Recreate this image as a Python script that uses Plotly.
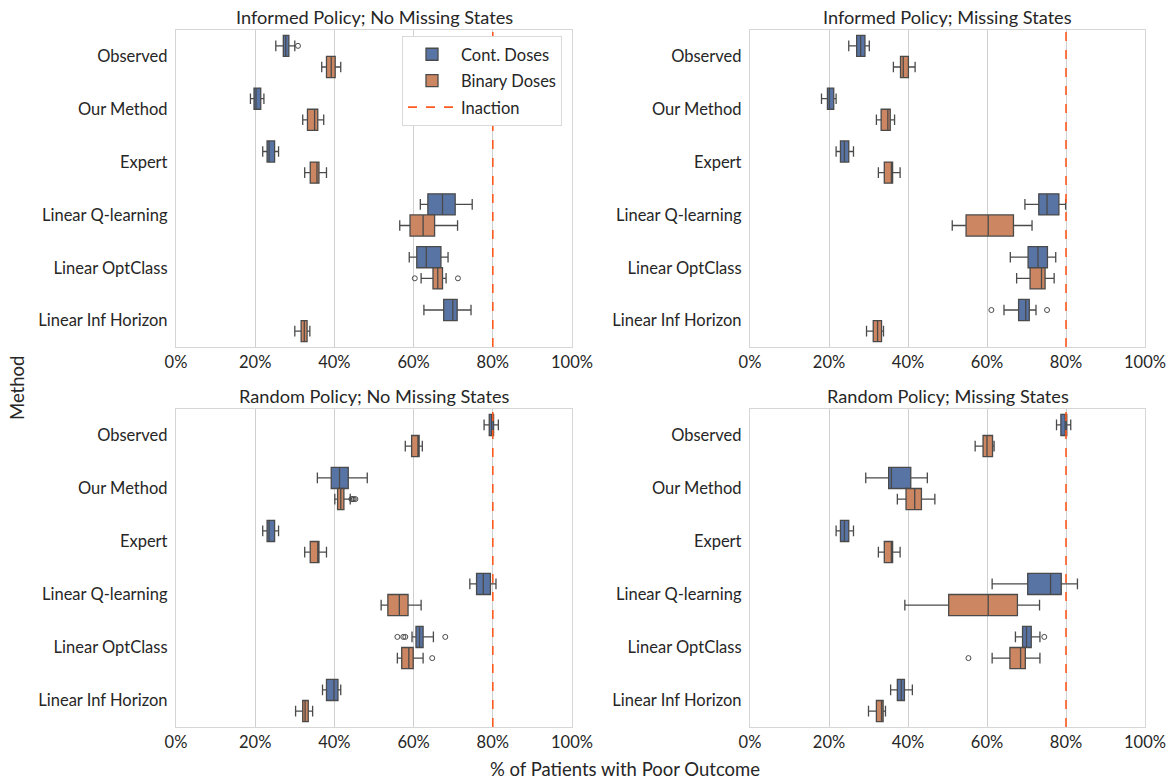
import plotly.graph_objects as go

# ---------------- data ----------------
METHODS = ["Observed", "Our Method", "Expert", "Linear Q-learning",
           "Linear OptClass", "Linear Inf Horizon"]
PANEL_TITLES = ["Informed Policy; No Missing States", "Informed Policy; Missing States",
                "Random Policy; No Missing States", "Random Policy; Missing States"]
SERIES_NAMES = ["Cont. Doses", "Binary Doses"]
X_TICKS = [0, 20, 40, 60, 80, 100]
X_TICK_LABELS = ["0%", "20%", "40%", "60%", "80%", "100%"]
INACTION = 80

# (lower whisker, q1, median, q3, upper whisker) per method, in %
INF_NOMISS_CONT = [(25.2, 27.1, 27.7, 28.5, 30.0), (18.8, 19.7, 20.2, 21.4, 22.2),
                   (21.9, 23.0, 23.5, 24.9, 25.9), (61.7, 63.6, 67.3, 70.5, 74.8),
                   (58.9, 60.8, 63.2, 66.9, 68.7), (62.6, 67.6, 69.9, 71.0, 74.5)]
INF_NOMISS_BIN = [(36.8, 38.0, 39.2, 40.2, 41.6), (32.0, 33.2, 35.0, 35.8, 37.3),
                  (32.5, 33.9, 35.6, 36.1, 38.0), (56.5, 59.1, 62.4, 65.3, 71.1),
                  (61.9, 64.9, 66.1, 67.3, 68.2), (30.0, 31.6, 32.4, 33.1, 33.8)]
INF_MISS_CONT = [(25.0, 27.0, 28.0, 29.1, 30.2), (18.1, 19.6, 20.1, 21.2, 21.8),
                 (21.8, 22.9, 23.9, 25.0, 26.2), (69.6, 73.1, 75.2, 78.2, 79.9),
                 (65.9, 70.4, 72.9, 75.3, 77.4), (64.3, 68.0, 69.8, 70.7, 72.4)]
INF_MISS_BIN = [(36.3, 38.1, 38.8, 40.1, 41.8), (32.0, 33.2, 34.9, 35.5, 36.6),
                (32.5, 34.0, 35.8, 36.1, 38.0), (51.2, 54.7, 60.3, 66.7, 71.4),
                (67.5, 70.9, 73.8, 74.7, 77.0), (29.5, 31.2, 32.3, 33.3, 33.8)]
RND_NOMISS_CONT = [(77.8, 79.1, 79.7, 80.2, 81.4), (35.7, 39.2, 41.3, 43.5, 48.3),
                   (21.9, 23.0, 23.5, 24.9, 25.9), (74.2, 75.9, 77.6, 79.4, 80.8),
                   (59.6, 60.6, 61.5, 62.4, 65.0), (37.0, 38.0, 39.9, 40.9, 41.6)]
RND_NOMISS_BIN = [(57.9, 59.5, 61.1, 61.4, 62.2), (40.1, 40.8, 41.6, 42.4, 44.0),
                  (32.5, 33.9, 35.8, 36.1, 38.0), (51.8, 53.5, 56.4, 58.6, 61.9),
                  (55.9, 57.0, 58.8, 59.9, 62.4), (30.2, 32.0, 32.6, 33.4, 34.5)]
RND_MISS_CONT = [(77.6, 78.7, 79.8, 80.2, 81.2), (29.3, 35.1, 35.8, 40.7, 44.9),
                 (21.8, 22.9, 23.9, 25.0, 26.2), (61.3, 70.3, 76.1, 78.8, 82.9),
                 (67.2, 69.0, 70.0, 71.2, 73.4), (35.6, 37.3, 38.3, 39.1, 41.1)]
RND_MISS_BIN = [(57.0, 59.0, 60.0, 61.4, 61.8), (37.3, 39.5, 41.7, 43.4, 46.8),
                (32.5, 34.0, 35.8, 36.1, 38.0), (39.2, 50.3, 60.3, 67.7, 73.3),
                (61.3, 65.8, 68.5, 69.7, 73.4), (30.0, 32.0, 33.3, 33.7, 34.3)]

# outliers: (method, value)
INF_NOMISS_CONT_OUT = [("Observed", 30.8)]
INF_NOMISS_BIN_OUT = [("Linear OptClass", 60.3), ("Linear OptClass", 71.2)]
INF_MISS_CONT_OUT = [("Linear Inf Horizon", 61.1), ("Linear Inf Horizon", 75.2)]
INF_MISS_BIN_OUT = []
RND_NOMISS_CONT_OUT = [("Linear OptClass", 55.9), ("Linear OptClass", 57.4),
                       ("Linear OptClass", 57.9), ("Linear OptClass", 68.0)]
RND_NOMISS_BIN_OUT = [("Our Method", 44.3), ("Our Method", 44.6), ("Our Method", 44.9),
                      ("Our Method", 45.3), ("Linear OptClass", 64.7)]
RND_MISS_CONT_OUT = [("Linear OptClass", 74.5)]
RND_MISS_BIN_OUT = [("Linear OptClass", 55.3)]

PANELS = [
    (INF_NOMISS_CONT, INF_NOMISS_BIN, INF_NOMISS_CONT_OUT, INF_NOMISS_BIN_OUT),
    (INF_MISS_CONT, INF_MISS_BIN, INF_MISS_CONT_OUT, INF_MISS_BIN_OUT),
    (RND_NOMISS_CONT, RND_NOMISS_BIN, RND_NOMISS_CONT_OUT, RND_NOMISS_BIN_OUT),
    (RND_MISS_CONT, RND_MISS_BIN, RND_MISS_CONT_OUT, RND_MISS_BIN_OUT),
]

# ---------------- style ----------------
W, H = 1169, 780
FILLS = ["#5874a5", "#cc8661"]
EDGE = "#4a4a4a"
TEXT = "#262626"
FRAME = "#d6d6d6"
GRID = "#d0d0d0"
INACTION_COLOR = "#ff5a1f"
FONT = "Lato, 'Open Sans', sans-serif"

# pixel frame of each panel: (left, right, top, bottom)
FRAMES = [(176, 572, 30, 347), (750, 1145, 30, 347),
          (176, 572, 409, 727), (750, 1145, 409, 727)]


def px(x):
    return x / W


def py(y):
    return 1 - y / H


fig = go.Figure()
layout = dict(
    width=W, height=H, margin=dict(l=0, r=0, t=0, b=0, pad=0),
    plot_bgcolor="white", paper_bgcolor="white",
    font=dict(family=FONT, color=TEXT, size=16),
    boxmode="group", boxgap=0.2, boxgroupgap=0.0,
    scattermode="group", scattergap=0.2,
    showlegend=True,
    legend=dict(x=px(562), y=py(36), xanchor="right", yanchor="top",
                bgcolor="white", bordercolor="#d9d9d9", borderwidth=1,
                font=dict(size=16.5, color=TEXT), itemwidth=48,
                tracegroupgap=2),
)

shapes = []
annotations = []
for i, (cont, binr, cout, bout) in enumerate(PANELS):
    sfx = "" if i == 0 else str(i + 1)
    xa, ya = "x" + sfx, "y" + sfx
    for j, stats in enumerate([cont, binr]):
        fig.add_trace(go.Box(
            y=METHODS, orientation="h",
            lowerfence=[s[0] for s in stats], q1=[s[1] for s in stats],
            median=[s[2] for s in stats], q3=[s[3] for s in stats],
            upperfence=[s[4] for s in stats],
            name=SERIES_NAMES[j], legendgroup=SERIES_NAMES[j], showlegend=(i == 0),
            offsetgroup=str(j), alignmentgroup="a",
            fillcolor=FILLS[j], line=dict(color=EDGE, width=1.3),
            whiskerwidth=0.5, boxpoints=False, hoverinfo="skip",
            xaxis=xa, yaxis=ya,
        ))
    for j, outs in enumerate([cout, bout]):
        fig.add_trace(go.Scatter(
            x=[o[1] for o in outs], y=[o[0] for o in outs],
            mode="markers", orientation="h",
            offsetgroup=str(j), alignmentgroup="a",
            marker=dict(symbol="circle-open", size=5, color=EDGE, line=dict(width=1)),
            showlegend=False, hoverinfo="skip", xaxis=xa, yaxis=ya,
        ))
    l, r, t, b = FRAMES[i]
    layout["xaxis" + sfx] = dict(
        domain=[px(l), px(r)], anchor=ya, range=[0, 100], automargin=False,
        tickvals=X_TICKS, ticktext=X_TICK_LABELS, tickfont=dict(size=16.5),
        showgrid=True, gridcolor=GRID, gridwidth=1, zeroline=False,
        showline=True, linecolor=FRAME, linewidth=1.3, mirror=True, ticks="",
    )
    layout["yaxis" + sfx] = dict(
        domain=[py(b), py(t)], anchor=xa, type="category", automargin=False,
        categoryorder="array", categoryarray=METHODS, range=[5.5, -0.5],
        tickfont=dict(size=16.5), showgrid=False, zeroline=False, ticklabelstandoff=4,
        showline=True, linecolor=FRAME, linewidth=1.3, mirror=True, ticks="",
    )
    shapes.append(dict(
        type="line", xref=xa, yref=ya + " domain", x0=INACTION, x1=INACTION,
        y0=0, y1=1, line=dict(color=INACTION_COLOR, width=1.6, dash="dash"),
        showlegend=(i == 0), name="Inaction", layer="above",
    ))
    annotations.append(dict(
        text=PANEL_TITLES[i], xref="paper", yref="paper",
        x=px((l + r) / 2), y=py(t), xanchor="center", yanchor="bottom",
        showarrow=False, font=dict(size=18.2, color=TEXT),
    ))

annotations.append(dict(text="Method", xref="paper", yref="paper",
                        x=px(17), y=py(388), xanchor="center", yanchor="middle",
                        textangle=-90, showarrow=False, font=dict(size=18.5, color=TEXT)))
annotations.append(dict(text="% of Patients with Poor Outcome", xref="paper", yref="paper",
                        x=px(625), y=py(769), xanchor="center", yanchor="middle",
                        showarrow=False, font=dict(size=18.5, color=TEXT)))

layout["shapes"] = shapes
layout["annotations"] = annotations
fig.update_layout(**layout)
# remove the browser's default 8px page margin so the figure fills the window
fig.write_html("out.html", config={"displayModeBar": False},
               post_script="document.body.style.margin='0';document.body.style.overflow='hidden';")
